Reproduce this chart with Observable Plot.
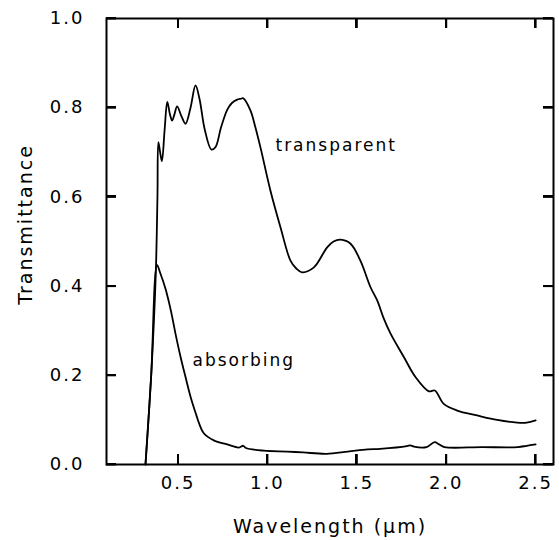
<!DOCTYPE html>
<html><head><meta charset="utf-8">
<script src="https://cdn.jsdelivr.net/npm/d3@7"></script>
<script src="https://cdn.jsdelivr.net/npm/@observablehq/plot@0.6"></script>
<style>body{margin:0;background:#fff}</style>
</head><body><div id="chart"></div>
<script>
// Transparent sample
const transWl = [0.318,0.35,0.375,0.385,0.39,0.40,0.41,0.425,0.44,0.455,0.467,0.48,0.495,0.52,0.542,0.57,0.598,0.62,0.65,0.687,0.71,0.74,0.775,0.80,0.831,0.85,0.865,0.905,0.93,0.961,1.017,1.073,1.129,1.16,1.194,1.26,1.334,1.37,1.41,1.465,1.52,1.576,1.614,1.651,1.688,1.763,1.828,1.903,1.936,1.986,2.061,2.173,2.285,2.397,2.45,2.5];
const transT  = [0.0,0.2,0.42,0.6,0.723,0.70,0.68,0.75,0.813,0.785,0.771,0.785,0.803,0.78,0.764,0.80,0.85,0.82,0.75,0.706,0.712,0.755,0.795,0.81,0.818,0.82,0.821,0.794,0.76,0.711,0.614,0.532,0.457,0.44,0.431,0.442,0.487,0.500,0.504,0.495,0.457,0.398,0.368,0.327,0.294,0.241,0.196,0.164,0.166,0.136,0.121,0.11,0.10,0.094,0.094,0.099];
// Absorbing sample
const absWl = [0.318,0.35,0.383,0.40,0.43,0.46,0.486,0.515,0.542,0.57,0.598,0.62,0.644,0.70,0.775,0.84,0.865,0.88,0.98,1.11,1.2,1.33,1.45,1.56,1.63,1.78,1.80,1.82,1.89,1.935,1.96,1.99,2.2,2.4,2.45,2.5];
const absT  = [0.0,0.2,0.447,0.43,0.394,0.345,0.293,0.24,0.196,0.152,0.116,0.09,0.07,0.054,0.045,0.038,0.042,0.037,0.031,0.029,0.027,0.024,0.029,0.034,0.035,0.041,0.043,0.040,0.039,0.05,0.045,0.039,0.039,0.039,0.042,0.045];

const xTicks = [0.5,1.0,1.5,2.0,2.5];
const yTicks = [0,0.2,0.4,0.6,0.8,1.0];
const curveLabels = ["transparent","absorbing"];
const labelX = [1.045,0.581];
const labelY = [0.715,0.233];

const xDomain = [0.1, 2.6];
const yDomain = [0, 1];
const transparent = transWl.map((w,i)=>({wl:w, t:transT[i]}));
const absorbing = absWl.map((w,i)=>({wl:w, t:absT[i]}));
const labels = curveLabels.map((l,i)=>({label:l, x:labelX[i], y:labelY[i]}));
const fmt = d3.format(".1f");

const W = 559, H = 540, mL = 106, mR = 6, mT = 18, mB = 76;
const tickLen = 10;
const tickLenY = tickLen / (H - mT - mB) * (yDomain[1] - yDomain[0]);
const tickLenX = tickLen / (W - mL - mR) * (xDomain[1] - xDomain[0]);

const chart = Plot.plot({
  width:W, height:H, marginLeft:mL, marginRight:mR, marginTop:mT, marginBottom:mB,
  style:{fontFamily:"DejaVu Sans", fontSize:"18px", color:"black", background:"white", letterSpacing:"2px"},
  x:{domain:xDomain}, y:{domain:yDomain},
  marks:[
    Plot.axisX({anchor:"bottom", ticks:xTicks, tickSize:0, tickPadding:12, tickFormat:fmt, label:null}),
    Plot.axisY({anchor:"left", ticks:yTicks, tickSize:0, tickPadding:22, tickFormat:fmt, label:null}),
    // inward ticks on all four sides
    Plot.ruleX(xTicks, {x:d=>d, y1:0, y2:tickLenY, stroke:"black", strokeWidth:2}),
    Plot.ruleX(xTicks, {x:d=>d, y1:1, y2:1 - tickLenY, stroke:"black", strokeWidth:2}),
    Plot.ruleY(yTicks, {y:d=>d, x1:0.1, x2:0.1 + tickLenX, stroke:"black", strokeWidth:2}),
    Plot.ruleY(yTicks, {y:d=>d, x1:2.6, x2:2.6 - tickLenX, stroke:"black", strokeWidth:2}),
    Plot.frame({stroke:"black", strokeWidth:2}),
    Plot.line(transparent, {x:"wl", y:"t", stroke:"black", strokeWidth:1.8, curve:"catmull-rom"}),
    Plot.line(absorbing, {x:"wl", y:"t", stroke:"black", strokeWidth:1.8, curve:"catmull-rom"}),
    Plot.text(labels, {x:"x", y:"y", text:"label", textAnchor:"start", fontSize:17, fill:"black"}),
    Plot.text(["Wavelength (μm)"], {frameAnchor:"bottom", lineAnchor:"middle", textAnchor:"middle", dy:62, fontSize:19, fill:"black"}),
    Plot.text(["Transmittance"], {frameAnchor:"left", textAnchor:"middle", lineAnchor:"middle", dx:-81, dy:-17, rotate:-90, fontSize:19, fill:"black"})
  ]
});

// Inward ticks also drawn directly with Plot's own scales, as a safeguard
const sx = chart.scale("x"), sy = chart.scale("y");
const svg = d3.select(chart);
const tg = svg.append("g").attr("stroke", "black").attr("stroke-width", 2);
const yBot = sy.apply(yDomain[0]), yTop = sy.apply(yDomain[1]);
const xLeft = sx.apply(xDomain[0]), xRight = sx.apply(xDomain[1]);
xTicks.forEach(v => {
  const px = Math.round(sx.apply(v));
  tg.append("line").attr("x1", px).attr("x2", px).attr("y1", yBot).attr("y2", yBot - tickLen);
  tg.append("line").attr("x1", px).attr("x2", px).attr("y1", yTop).attr("y2", yTop + tickLen);
});
yTicks.forEach(v => {
  const py = Math.round(sy.apply(v));
  tg.append("line").attr("y1", py).attr("y2", py).attr("x1", xLeft).attr("x2", xLeft + tickLen);
  tg.append("line").attr("y1", py).attr("y2", py).attr("x1", xRight).attr("x2", xRight - tickLen);
});
document.getElementById("chart").appendChild(chart);
</script>
</body></html>
